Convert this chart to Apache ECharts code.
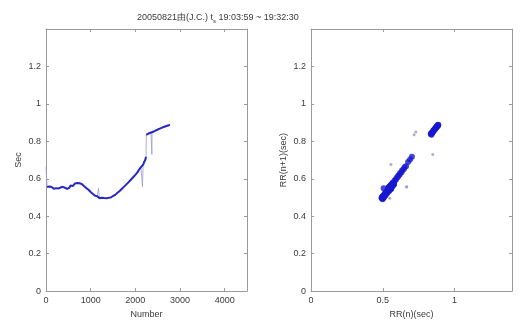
<!DOCTYPE html>
<html>
<head>
<meta charset="utf-8">
<script src="https://cdn.jsdelivr.net/npm/echarts@6/dist/echarts.min.js"></script>
<style>
  html, body { margin: 0; padding: 0; background: #fff; }
  #chart { width: 520px; height: 324px; }
</style>
</head>
<body>
<div id="chart"></div>
<script>
// Beat numbers and RR intervals (seconds) of the recording
const beatNo = [
  0, 25, 50, 75, 100, 125, 150, 175, 200, 225, 250, 275, 300, 325, 350, 375,
  400, 425, 450, 475, 500, 525, 550, 575, 600, 625, 650, 675, 700, 725, 750, 775,
  800, 825, 850, 875, 900, 925, 950, 975, 1000, 1025, 1050, 1075, 1100, 1125, 1150, 1175,
  1200, 1225, 1250, 1275, 1300, 1325, 1350, 1375, 1400, 1425, 1450, 1475, 1500, 1525,
  1550, 1575, 1600, 1625, 1650, 1675, 1700, 1725, 1750, 1775, 1800, 1825, 1850, 1875,
  1900, 1925, 1950, 1975, 2000, 2025, 2050, 2075, 2100, 2125, 2150, 2160, 2175, 2200,
  2225, 2240, 2245, 2250, 2275, 2300, 2325, 2350, 2365, 2370, 2375, 2400, 2425, 2450,
  2475, 2500, 2525, 2550, 2575, 2600, 2625, 2650, 2675, 2700, 2725, 2750, 2775
];
const rrSec = [
  0.665, 0.556, 0.551, 0.559, 0.549, 0.556, 0.552, 0.547, 0.557, 0.550, 0.555, 0.548, 0.544, 0.553, 0.547, 0.557,
  0.560, 0.552, 0.558, 0.546, 0.538, 0.553, 0.564, 0.567, 0.561, 0.571, 0.575, 0.569, 0.577, 0.571, 0.576, 0.568,
  0.572, 0.565, 0.561, 0.555, 0.551, 0.545, 0.541, 0.532, 0.529, 0.521, 0.519, 0.510, 0.509, 0.501, 0.506, 0.549,
  0.496, 0.494, 0.499, 0.491, 0.497, 0.500, 0.496, 0.502, 0.498, 0.504, 0.500, 0.506, 0.508, 0.513,
  0.514, 0.522, 0.525, 0.531, 0.535, 0.542, 0.547, 0.554, 0.558, 0.567, 0.570, 0.579, 0.582, 0.591,
  0.595, 0.604, 0.608, 0.617, 0.621, 0.631, 0.635, 0.646, 0.651, 0.662, 0.667, 0.557, 0.676, 0.690,
  0.703, 0.718, 0.835, 0.839, 0.835, 0.842, 0.842, 0.847, 0.848, 0.730, 0.850, 0.851, 0.856, 0.857,
  0.862, 0.863, 0.867, 0.868, 0.872, 0.873, 0.877, 0.878, 0.882, 0.882, 0.886, 0.886, 0.889
];
// Isolated beats (premature / artefact) – drawn only by the thin trace
const ectopicBeats = [0, 1175, 2160, 2370];
// A beat-to-beat change larger than this is a jump, not part of the dense trend
const JUMP = 0.05;

const titleMain = '20050821由(J.C.) t';
const titleSub = 's';
const titleTail = ' 19:03:59 ~ 19:32:30';

const xTicksLeft = [0, 1000, 2000, 3000, 4000];
const yTicks = [0, 0.2, 0.4, 0.6, 0.8, 1, 1.2];
const xTicksRight = [0, 0.5, 1];

// Tachogram: thin trace through every beat, heavy trace through the steady beats
const lineData = beatNo.map((b, i) => [b, rrSec[i]]);
const steady = lineData.filter(p => !ectopicBeats.includes(p[0]));
const steadyData = [];
steady.forEach((p, i) => {
  if (i > 0 && Math.abs(p[1] - steady[i - 1][1]) > JUMP) steadyData.push([p[0], null]);
  steadyData.push(p);
});
// Poincaré pairs (RR(n), RR(n+1))
const pairData = rrSec.slice(0, -1).map((v, i) => [v, rrSec[i + 1]]);
const isOutlier = p => Math.abs(p[1] - p[0]) > JUMP;

const AX = '#9a9a9a';
const TXT = '#3a3a3a';
const FONT = 'Liberation Sans';

function baseAxis(extra) {
  return Object.assign({
    type: 'value',
    axisLine: { show: true, onZero: false, lineStyle: { color: AX, width: 1 } },
    axisTick: { show: true, inside: true, length: 3, lineStyle: { color: AX } },
    splitLine: { show: false },
    axisLabel: { show: false }
  }, extra);
}

function labelled(ticks, fmt) {
  return {
    show: true, color: TXT, fontSize: 9, fontFamily: FONT, margin: 5,
    showMaxLabel: false,
    formatter: v => ticks.some(t => Math.abs(t - v) < 1e-9) ? fmt(v) : ''
  };
}

const nameStyle = { color: TXT, fontSize: 9, fontFamily: FONT };

const chart = echarts.init(document.getElementById('chart'), null, { renderer: 'canvas' });
chart.setOption({
  animation: false,
  backgroundColor: '#fff',
  title: {
    text: '{m|' + titleMain + '}{s|' + titleSub + '}{m|' + titleTail + '}',
    left: 132, top: 7,
    textStyle: {
      fontWeight: 'normal',
      rich: {
        m: { fontSize: 9, color: TXT, fontFamily: FONT, fontWeight: 'normal' },
        s: { fontSize: 6, color: TXT, fontFamily: FONT, fontWeight: 'normal', verticalAlign: 'bottom', padding: [6, 0, 0, 0] }
      }
    }
  },
  grid: [
    { left: 46, top: 29, width: 201, height: 275 },
    { left: 311, top: 29, width: 201, height: 275 }
  ],
  xAxis: [
    baseAxis({ gridIndex: 0, position: 'bottom', min: 0, max: 4500, interval: 1000,
      axisLabel: labelled(xTicksLeft, v => String(v)),
      name: 'Number', nameLocation: 'middle', nameGap: 17, nameTextStyle: nameStyle }),
    baseAxis({ gridIndex: 0, position: 'top', min: 0, max: 4500, interval: 1000 }),
    baseAxis({ gridIndex: 1, position: 'bottom', min: 0, max: 1.4, interval: 0.5,
      axisLabel: labelled(xTicksRight, v => String(v)),
      name: 'RR(n)(sec)', nameLocation: 'middle', nameGap: 17, nameTextStyle: nameStyle }),
    baseAxis({ gridIndex: 1, position: 'top', min: 0, max: 1.4, interval: 0.5 })
  ],
  yAxis: [
    baseAxis({ gridIndex: 0, position: 'left', min: 0, max: 1.4, interval: 0.2,
      axisLabel: labelled(yTicks, v => String(+v.toFixed(1))),
      name: 'Sec', nameLocation: 'middle', nameGap: 23, nameTextStyle: nameStyle }),
    baseAxis({ gridIndex: 0, position: 'right', min: 0, max: 1.4, interval: 0.2 }),
    baseAxis({ gridIndex: 1, position: 'left', min: 0, max: 1.4, interval: 0.2,
      axisLabel: labelled(yTicks, v => String(+v.toFixed(1))),
      name: 'RR(n+1)(sec)', nameLocation: 'middle', nameGap: 23, nameTextStyle: nameStyle }),
    baseAxis({ gridIndex: 1, position: 'right', min: 0, max: 1.4, interval: 0.2 })
  ],
  series: [
    {
      type: 'line', xAxisIndex: 0, yAxisIndex: 0,
      data: lineData, showSymbol: false, symbol: 'none',
      lineStyle: { color: '#9a9ad8', width: 0.8 }
    },
    {
      type: 'line', xAxisIndex: 0, yAxisIndex: 0,
      data: steadyData, showSymbol: false, symbol: 'none', connectNulls: false,
      lineStyle: { color: '#2828c4', width: 2 }
    },
    {
      type: 'scatter', xAxisIndex: 2, yAxisIndex: 2,
      data: pairData, symbol: 'circle',
      symbolSize: p => isOutlier(p) ? 3 : 6,
      itemStyle: { color: params => isOutlier(params.data) ? '#9a9ab8' : '#1818d0' }
    }
  ]
});
</script>
</body>
</html>
